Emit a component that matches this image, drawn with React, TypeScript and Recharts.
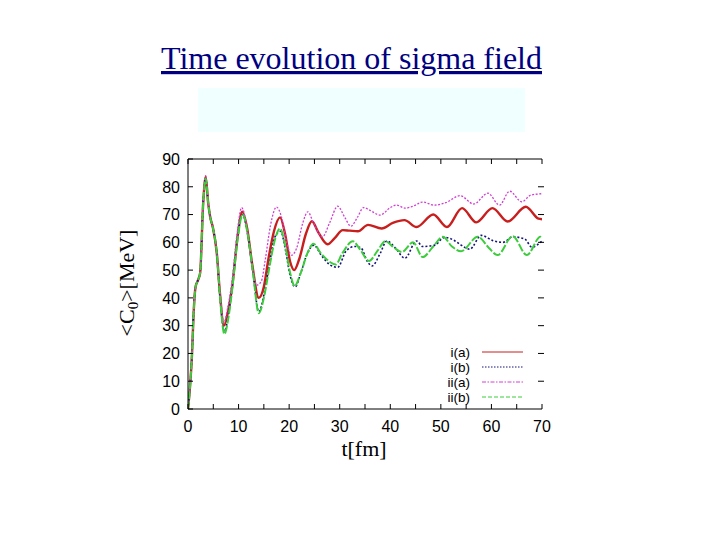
import React from 'react';
import { LineChart, Line, XAxis, YAxis, Legend, ReferenceLine } from 'recharts';

// ---- data ----
const seriesNames = ['i(a)', 'i(b)', 'ii(a)', 'ii(b)'];
const xTicks = [0, 5, 10, 15, 20, 25, 30, 35, 40, 45, 50, 55, 60, 65, 70];
const yTicks = [0, 10, 20, 30, 40, 50, 60, 70, 80, 90];

// i(a)
const iaT = [0, 0.4, 0.8, 1.1, 1.5, 2.0, 2.4, 3.0, 3.5, 4.0, 4.4, 4.9, 5.7, 6.3, 7.1, 7.9, 8.8, 9.8, 10.7, 11.7, 12.7, 14.0, 15.0, 15.9, 17.0, 18.2, 19.2, 20.2, 21.0, 22.0, 23.3, 24.5, 25.8, 27.6, 29.0, 30.6, 32.0, 33.6, 35.6, 38.3, 40.5, 42.8, 45.2, 48.5, 51.2, 54.2, 57.0, 60.2, 63.2, 66.8, 69.3, 70];
const iaV = [0, 8, 20, 34, 44, 46.5, 49, 74, 83.5, 74, 69, 65.5, 56, 42, 30, 35, 45, 62, 71, 65, 52, 40, 44, 54, 64, 69, 63, 53, 50, 54, 63, 67.6, 63.5, 59.3, 61.5, 64.4, 64.2, 64, 66.3, 65, 67, 68, 65.5, 70, 65.5, 72.3, 67.2, 72.3, 67.5, 72.8, 68.5, 68.3];

// i(b)
const ibT = [0, 0.4, 0.8, 1.1, 1.5, 2.0, 2.4, 3.0, 3.5, 4.0, 4.4, 4.9, 5.7, 6.3, 7.2, 8.0, 8.8, 9.8, 10.8, 11.8, 12.8, 14.0, 15.0, 16.0, 17.2, 18.3, 19.3, 20.2, 21.2, 22.3, 23.6, 24.9, 26.3, 28.0, 29.6, 31.3, 33.0, 34.2, 35.5, 36.4, 38.0, 39.3, 41.0, 42.9, 45.2, 46.4, 48.8, 50.7, 52.8, 54.0, 55.7, 58.0, 60.3, 62.3, 64.2, 66.6, 68.0, 70];
const ibV = [0, 8, 20, 34, 44, 46.5, 49, 74, 83, 74, 69, 65.5, 56, 41, 28, 34, 45, 62, 70, 63, 50, 35, 41, 51, 62, 64, 57, 48, 44, 49, 56, 59, 55.5, 52, 51, 57, 58.5, 58, 53, 51.5, 56, 60.5, 58, 54.3, 60.5, 58.5, 59, 61.8, 60.5, 59, 57.5, 62.5, 60.6, 60, 62, 61.2, 58.3, 60.5];

// ii(a)
const iiaT = [0, 0.4, 0.8, 1.1, 1.5, 2.0, 2.4, 3.0, 3.5, 4.0, 4.4, 4.9, 5.7, 6.3, 7.1, 7.8, 8.7, 9.7, 10.6, 11.5, 12.5, 13.6, 14.5, 15.3, 16.3, 17.5, 18.5, 19.5, 20.5, 21.5, 22.7, 23.7, 24.8, 26.6, 28.0, 29.6, 31.0, 32.2, 33.5, 34.7, 36.0, 38.0, 40.0, 41.2, 43.0, 44.5, 46.4, 48.7, 51.0, 53.8, 56.5, 59.3, 61.6, 63.6, 66.0, 67.8, 70];
const iiaV = [0, 8, 20, 34, 44, 46.5, 49, 74, 84, 74, 69, 65.5, 56, 43, 31, 36, 46, 63, 72.5, 67, 53, 44.6, 46, 54, 66, 72.7, 69, 60, 55.4, 58, 67, 71, 67, 62, 67, 73, 69, 65.8, 69, 72.5, 71.5, 69.8, 72.5, 73.4, 72.3, 73, 74.5, 73.4, 74.3, 76.8, 73.8, 77.7, 73.4, 78.4, 74.6, 77, 77.5];

// ii(b)
const iibT = [0, 0.4, 0.8, 1.1, 1.5, 2.0, 2.4, 3.0, 3.5, 4.0, 4.4, 4.9, 5.7, 6.3, 7.2, 8.0, 8.8, 9.8, 10.8, 11.8, 12.8, 14.0, 15.0, 16.0, 17.2, 18.2, 19.3, 20.2, 21.1, 22.3, 23.6, 24.8, 26.3, 28.0, 29.2, 30.5, 32.6, 34.0, 35.8, 37.5, 39.0, 40.8, 42.3, 44.5, 46.4, 48.5, 50.4, 52.2, 54.0, 57.3, 59.5, 61.2, 64.2, 67.0, 69.7, 70];
const iibV = [0, 8, 20, 34, 44, 46.5, 49, 74, 83, 74, 69, 65.5, 56, 41, 27, 33, 44, 61, 70, 63, 50, 34.5, 40, 50, 61, 65, 58, 49, 44.3, 49, 56, 59.5, 56, 53, 52, 56, 60.4, 57.5, 53.3, 57, 60.4, 58, 56.5, 60, 54.7, 58.5, 62, 58.5, 56.8, 62, 58, 55.4, 62.2, 55.4, 62, 61.5];

const toData = (ts: number[], vs: number[]) => ts.map((t, i) => ({ t, v: vs[i] }));
const seriesData = [toData(iaT, iaV), toData(ibT, ibV), toData(iiaT, iiaV), toData(iibT, iibV)];

// ---- layout / styles ----
const CHART_W = 720;
const CHART_H = 540;
const MARGIN = { top: 159, right: 178, bottom: 101, left: 148 };
const Y_AXIS_W = 40;
const X_AXIS_H = 30;
const PLOT_W = CHART_W - MARGIN.left - Y_AXIS_W - MARGIN.right;
const PLOT_H = CHART_H - MARGIN.top - MARGIN.bottom - X_AXIS_H;

const seriesStyle = [
  { color: '#c81e1e', width: 2.4, dash: undefined as string | undefined, legendDash: undefined as string | undefined },
  { color: '#12127a', width: 1.6, dash: '2 2', legendDash: '1.5 1.5' },
  { color: '#d040d0', width: 1.3, dash: '2 1.6', legendDash: '4 1.5 1.5 1.5' },
  { color: '#3ccc3c', width: 2.0, dash: '8 2', legendDash: '4 2' },
];

const sansFont = '"Liberation Sans", Arial, Helvetica, sans-serif';
const serifFont = '"Liberation Serif", "Times New Roman", serif';

// bottom axis tick: inward tick at bottom and mirrored inward tick on the top border
const BottomTick = (props: any) => {
  const { x, y, payload } = props;
  const v = payload.value;
  return (
    <g>
      <line x1={x} x2={x} y1={y} y2={y - 5} stroke="#000" strokeWidth={1} />
      <line x1={x} x2={x} y1={y - PLOT_H} y2={y - PLOT_H + 5} stroke="#000" strokeWidth={1} />
      {v % 10 === 0 && (
        <text x={x} y={y + 23} textAnchor="middle" fontSize={16} fontFamily={sansFont} fill="#000">
          {v}
        </text>
      )}
    </g>
  );
};

// left axis tick: inward tick, label, and a short mark on the right side (no right border)
const LeftTick = (props: any) => {
  const { x, y, payload } = props;
  const v = payload.value;
  return (
    <g>
      <line x1={x} x2={x + 5} y1={y} y2={y} stroke="#000" strokeWidth={1} />
      {v > 0 && v < 90 && (
        <line x1={x + PLOT_W - 4} x2={x + PLOT_W + 2} y1={y} y2={y} stroke="#000" strokeWidth={1} />
      )}
      <text x={x - 8} y={y} dy="0.36em" textAnchor="end" fontSize={16} fontFamily={sansFont} fill="#000">
        {v}
      </text>
    </g>
  );
};

const LegendBox = () => (
  <svg width={115} height={62} style={{ display: 'block' }}>
    {seriesNames.map((n, i) => {
      const s = seriesStyle[i];
      const yy = 9 + i * 15;
      return (
        <g key={n}>
          <text x={50} y={yy} dy="0.36em" textAnchor="end" fontSize={13.5} fontFamily={sansFont} fill="#000">
            {n}
          </text>
          <line x1={62} x2={103} y1={yy} y2={yy} stroke={s.color} strokeWidth={1} strokeDasharray={s.legendDash} />
        </g>
      );
    })}
  </svg>
);

export default function App() {
  return (
    <div style={{ position: 'absolute', left: 0, top: 0, width: CHART_W, height: CHART_H, background: '#fff' }}>
      <svg width={CHART_W} height={CHART_H} style={{ position: 'absolute', left: 0, top: 0 }}>
        <rect x={198} y={88} width={327} height={44} fill="#f0ffff" />
        <text
          x={351.5}
          y={69}
          textAnchor="middle"
          fontSize={32}
          fontFamily={serifFont}
          fill="#000080"
          textDecoration="underline"
        >
          Time evolution of sigma field
        </text>
        <text
          x={134}
          y={283}
          transform="rotate(-90 134 283)"
          textAnchor="middle"
          fontSize={22}
          fontFamily={serifFont}
          fill="#000"
        >
          {'<C'}
          <tspan dy={4} fontSize={15}>0</tspan>
          <tspan dy={-4}>{'>[MeV]'}</tspan>
        </text>
        <text x={364} y={456} textAnchor="middle" fontSize={22} fontFamily={serifFont} fill="#000">
          t[fm]
        </text>
      </svg>
      <div style={{ position: 'absolute', left: 0, top: 0 }}>
        <LineChart width={CHART_W} height={CHART_H} margin={MARGIN}>
          <XAxis
            xAxisId="b"
            dataKey="t"
            type="number"
            domain={[0, 70]}
            ticks={xTicks}
            interval={0}
            height={X_AXIS_H}
            tickSize={0}
            tickMargin={0}
            tickLine={false}
            axisLine={{ stroke: '#000' }}
            tick={BottomTick}
            allowDataOverflow
          />
          <YAxis
            yAxisId="l"
            type="number"
            domain={[0, 90]}
            ticks={yTicks}
            interval={0}
            width={Y_AXIS_W}
            tickSize={0}
            tickMargin={0}
            tickLine={false}
            axisLine={{ stroke: '#000' }}
            tick={LeftTick}
            allowDataOverflow
          />
          <ReferenceLine xAxisId="b" yAxisId="l" y={90} stroke="#000" strokeWidth={1} />
          <Legend
            layout="horizontal"
            verticalAlign="middle"
            align="center"
            content={<LegendBox />}
            wrapperStyle={{ left: 420, top: 343, width: 115, height: 62 }}
          />
          {seriesNames.map((n, i) => (
            <Line
              key={n}
              name={n}
              data={seriesData[i]}
              dataKey="v"
              xAxisId="b"
              yAxisId="l"
              type="monotone"
              stroke={seriesStyle[i].color}
              strokeWidth={seriesStyle[i].width}
              strokeDasharray={seriesStyle[i].dash}
              dot={false}
              activeDot={false}
              isAnimationActive={false}
            />
          ))}
        </LineChart>
      </div>
    </div>
  );
}
